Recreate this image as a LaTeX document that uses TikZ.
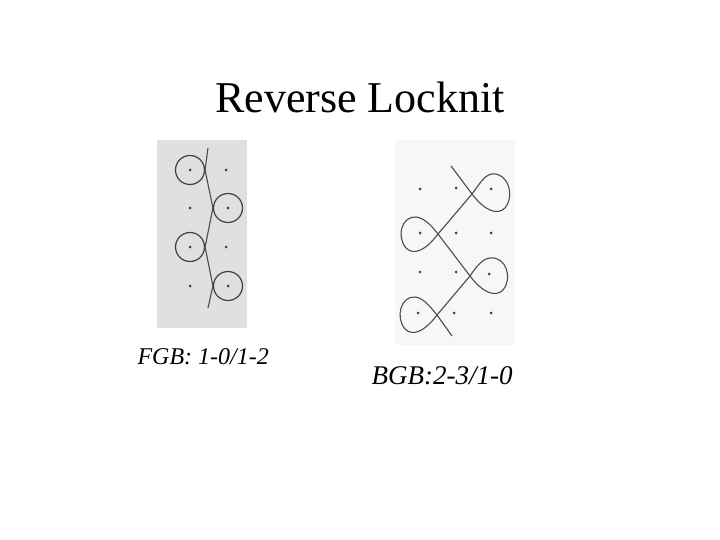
\documentclass[tikz,border=0pt]{standalone}
\usepackage{fontspec}
\setmainfont{Liberation Serif}
\begin{document}
\begin{tikzpicture}[x=1pt,y=-1pt,
  dotm/.style={fill=black!75,circle,inner sep=0pt,minimum size=3pt},
  ring/.style={draw=black!75,line width=1.2pt,circle,minimum size=29pt,inner sep=0pt},
  yarn/.style={draw=black!70,line width=1.1pt}]
\useasboundingbox (0,0) rectangle (720,540);
\node (title) at (360,97) {\fontsize{44}{46}\selectfont Reverse Locknit};
% left panel
\fill[black!12] (157,140) rectangle (247,328);
\foreach \x/\y [count=\i] in {190/170,226/170,190/208,228/208,190/247,226/247,190/286,228/286}
  \node[dotm] (l\i) at (\x,\y) {};
\node[ring] (c1) at (l1) {};
\node[ring] (c2) at (l4) {};
\node[ring] (c3) at (l5) {};
\node[ring] (c4) at (l8) {};
\coordinate (ls) at (208,148);
\coordinate (le) at (208,308);
\draw[yarn] (ls) -- (c1.east) -- (c2.west) -- (c3.east) -- (c4.west) -- (le);
% right panel
\fill[black!3] (395,140) rectangle (515,345);
\foreach \x/\y [count=\i] in {420/189,456/188,491/189,420/233,456/233,491/233,420/272,456/272,489/274,418/313,454/313,491/313}
  \node[dotm] (r\i) at (\x,\y) {};
\coordinate (rs) at (451,166);
\coordinate (x1) at (472,194);
\coordinate (x2) at (438,234);
\coordinate (x3) at (470,276);
\coordinate (x4) at (437,315);
\coordinate (re) at (452,336);
\draw[yarn] (rs) -- (x1)
  .. controls (484,210) and (497,216) .. (505,208) .. controls (515,196) and (508,172) .. (492,174) .. controls (484,175) and (479,185) .. (x1)
  -- (x2)
  .. controls (426,250) and (414,256) .. (406,248) .. controls (396,236) and (402,216) .. (416,217) .. controls (424,218) and (430,224) .. (x2)
  -- (x3)
  .. controls (482,292) and (495,298) .. (503,290) .. controls (513,278) and (506,256) .. (490,258) .. controls (482,259) and (476,267) .. (x3)
  -- (x4)
  .. controls (425,331) and (413,337) .. (405,329) .. controls (395,317) and (401,296) .. (415,297) .. controls (423,298) and (429,305) .. (x4)
  -- (re);
\node[anchor=west] (fgb) at (134,357) {\fontsize{24}{26}\selectfont\itshape FGB: 1-0/1-2};
\node[anchor=west] (bgb) at (368,376) {\fontsize{27}{29}\selectfont\itshape BGB:2-3/1-0};
\end{tikzpicture}
\end{document}
